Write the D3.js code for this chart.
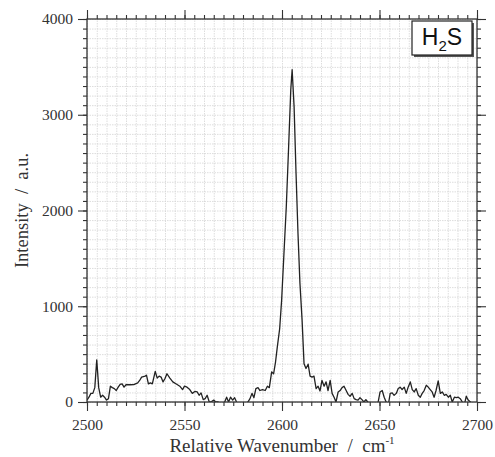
<!DOCTYPE html>
<html>
<head>
<meta charset="utf-8">
<script src="https://cdn.jsdelivr.net/npm/d3@7"></script>
<style>
  body { margin: 0; background: #fff; }
  svg { display: block; }
</style>
</head>
<body>
<div class="graph"></div>
<script>
// data
const wavenumber = [2500,2501,2502,2503,2504,2505,2506,2507,2508,2509,2510,2511,2512,2513,2514,2515,2516,2517,2518,2519,2520,2522,2524,2526,2527,2528,2529.8,2530.5,2531.5,2532.5,2533.5,2535,2536,2537,2538,2539,2540,2541,2542.5,2544,2546,2547.6,2549,2550,2551.3,2552.7,2554,2555.3,2556.5,2557.5,2558.5,2559.6,2560.6,2561.6,2562.7,2563.9,2565,2566,2567.3,2568.5,2570,2571.6,2572.6,2573.6,2574.7,2575.7,2576.7,2578,2580,2582.5,2583.6,2584.6,2585.6,2586.6,2587.7,2588.7,2590,2591.4,2592.5,2593.5,2594.7,2595.7,2596.7,2597.6,2598.8,2599.8,2601,2602.2,2603.4,2604.5,2605.2,2606.2,2607.2,2608.2,2609.2,2610.3,2611.3,2612.3,2613.4,2614.4,2615.4,2616.4,2617.5,2618.5,2619.5,2620.5,2621.6,2622.6,2623.6,2624.7,2625.7,2626.7,2627.7,2628.8,2629.8,2630.8,2631.8,2632.9,2633.9,2634.9,2636,2637,2638,2639,2640,2641,2642,2643,2644,2645,2647,2649.3,2650.3,2651.4,2652.4,2653.4,2654.5,2655.5,2656.5,2657.5,2658.6,2659.6,2660.6,2661.6,2662.7,2663.7,2664.7,2665.8,2666.8,2667.8,2668.8,2669.9,2670.9,2671.9,2672.9,2674,2675,2676,2677,2678,2679,2680.1,2681.2,2682.2,2683.2,2684.2,2685.3,2686.3,2687.3,2688.4,2689.4,2690.4,2691.4,2692.5,2693.5,2694.5,2695.5,2696.6,2698,2700];
const intensity = [20,50,90,90,150,440,150,50,70,50,20,35,165,150,140,120,155,185,190,155,180,180,182,200,225,260,270,280,190,200,190,320,250,270,260,210,245,295,250,210,185,165,130,165,155,130,90,110,105,70,95,25,35,70,0,5,20,0,0,-40,-30,50,0,50,20,45,0,-50,-60,0,35,90,45,140,150,120,130,120,165,150,315,295,420,575,765,1060,1550,2040,2665,3260,3470,3085,2390,1760,1240,855,400,350,395,270,260,270,140,165,115,225,165,210,120,225,90,50,0,105,120,150,165,120,80,60,90,35,25,20,45,25,0,25,0,-40,-60,0,105,120,50,0,-30,90,95,70,90,140,155,130,155,90,155,210,130,105,140,70,50,90,120,175,155,130,105,50,120,220,90,105,70,80,50,70,0,50,45,50,35,0,-30,60,20,0,-40,-30];

const xMajor = [2500, 2550, 2600, 2650, 2700];
const yMajor = [0, 1000, 2000, 3000, 4000];

const margin = { top: 19, right: 18, bottom: 55, left: 87 };
const width = 495 - margin.left - margin.right,
      height = 457 - margin.top - margin.bottom;

const x = d3.scaleLinear().domain([2500, 2700]).range([0, width]);
const y = d3.scaleLinear().domain([0, 4000]).range([height, 0]);

const svg = d3.select(".graph").append("svg")
    .attr("width", 495)
    .attr("height", 457);

const g = svg.append("g")
    .attr("transform", `translate(${margin.left},${margin.top})`);

const xMinor = d3.range(2500, 2701, 5);
const yMinor = d3.range(0, 4001, 100);

// grid
g.append("g")
    .attr("class", "grid")
    .attr("transform", `translate(0,${height})`)
    .call(d3.axisBottom(x).tickValues(xMinor).tickSize(-height).tickFormat(""));
g.append("g")
    .attr("class", "grid")
    .call(d3.axisLeft(y).tickValues(yMinor).tickSize(-width).tickFormat(""));
g.selectAll(".grid .domain").remove();
g.selectAll(".grid line")
    .attr("stroke", "#d4d4d4")
    .attr("stroke-width", 0.8)
    .attr("stroke-dasharray", "1.5,1");

// clip
g.append("clipPath").attr("id", "clip")
  .append("rect").attr("width", width).attr("height", height);

const line = d3.line()
    .x((d, i) => x(wavenumber[i]))
    .y(d => y(d));

g.append("path")
    .datum(intensity)
    .attr("clip-path", "url(#clip)")
    .attr("fill", "none")
    .attr("stroke", "#222")
    .attr("stroke-width", 1.3)
    .attr("stroke-linejoin", "round")
    .attr("d", line);

// ticks (minor + major) on all four sides
function ticks(axis, sel) {
    sel.call(axis);
    sel.select(".domain").remove();
    sel.selectAll("line").attr("stroke", "#333").attr("stroke-width", 1.1);
}
const tickFont = "'Liberation Serif', 'DejaVu Serif', serif";

ticks(d3.axisBottom(x).tickValues(xMinor).tickSize(4).tickFormat(""),
    g.append("g").attr("transform", `translate(0,${height})`));
ticks(d3.axisTop(x).tickValues(xMinor).tickSize(4).tickFormat(""), g.append("g"));
ticks(d3.axisLeft(y).tickValues(yMinor).tickSize(4).tickFormat(""), g.append("g"));
ticks(d3.axisRight(y).tickValues(yMinor).tickSize(4).tickFormat(""),
    g.append("g").attr("transform", `translate(${width},0)`));

const xb = g.append("g").attr("transform", `translate(0,${height})`);
ticks(d3.axisBottom(x).tickValues(xMajor).tickSize(9).tickPadding(8).tickFormat(d3.format("d")), xb);
ticks(d3.axisTop(x).tickValues(xMajor).tickSize(9).tickFormat(""), g.append("g"));
const yl = g.append("g");
ticks(d3.axisLeft(y).tickValues(yMajor).tickSize(9).tickPadding(5).tickFormat(d3.format("d")), yl);
ticks(d3.axisRight(y).tickValues(yMajor).tickSize(9).tickFormat(""),
    g.append("g").attr("transform", `translate(${width},0)`));

g.selectAll("text")
    .style("font-family", tickFont)
    .style("font-size", "15.5px")
    .attr("fill", "#333");

// frame
g.append("rect")
    .attr("width", width)
    .attr("height", height)
    .attr("fill", "none")
    .attr("stroke", "#333")
    .attr("stroke-width", 1.3);

// axis titles
const xt = svg.append("text")
    .attr("x", margin.left + width / 2)
    .attr("y", 452)
    .attr("text-anchor", "middle")
    .style("font-family", tickFont)
    .style("font-size", "19px")
    .attr("fill", "#333")
    .attr("xml:space", "preserve");
xt.append("tspan").text("Relative Wavenumber  /  cm");
xt.append("tspan").attr("dy", -8).style("font-size", "11px").text("-1");

svg.append("text")
    .attr("transform", `translate(28,${margin.top + height / 2}) rotate(-90)`)
    .attr("text-anchor", "middle")
    .style("font-family", tickFont)
    .style("font-size", "18.5px")
    .attr("fill", "#333")
    .attr("xml:space", "preserve")
    .text("Intensity  /  a.u.");

// label box
const box = svg.append("g").attr("transform", "translate(412,21)");
box.append("rect")
    .attr("x", 2).attr("y", 2)
    .attr("width", 60).attr("height", 34)
    .attr("fill", "#555");
box.append("rect")
    .attr("width", 60).attr("height", 34)
    .attr("fill", "#fff")
    .attr("stroke", "#222")
    .attr("stroke-width", 1.2);
const lbl = box.append("text")
    .attr("x", 30).attr("y", 24)
    .attr("text-anchor", "middle")
    .style("font-family", "'Liberation Sans', Arial, sans-serif")
    .style("font-size", "23px")
    .attr("fill", "#111");
lbl.append("tspan").text("H");
lbl.append("tspan").attr("dy", 6).style("font-size", "15px").text("2");
lbl.append("tspan").attr("dy", -6).text("S");
</script>
</body>
</html>
